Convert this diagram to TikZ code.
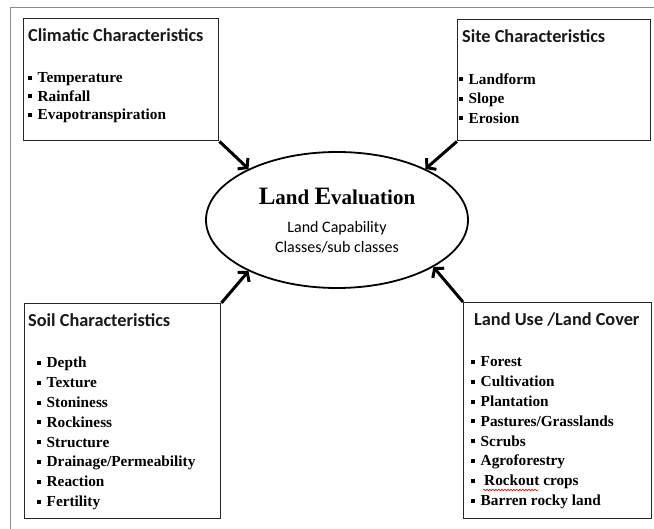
\documentclass[tikz,border=0pt]{standalone}
\usepackage{fontspec}
\setmainfont{Liberation Serif}
\newfontfamily\calfont{Carlito}
\usetikzlibrary{shapes.geometric,arrows.meta,decorations.pathmorphing}
\newcommand\bul{\rule[0.2em]{4pt}{4pt}\hspace{5.5pt}}
\begin{document}
\begin{tikzpicture}[x=1pt,y=-1pt,
  box/.style={draw=black!85,line width=1.4pt,anchor=north west,inner sep=0pt,rectangle},
  ttl/.style={anchor=base west,inner sep=0pt,font=\calfont\bfseries\fontsize{18.3}{20}\selectfont,text=black!90},
  itm/.style={anchor=base west,inner sep=0pt,font=\bfseries\fontsize{15.3}{17}\selectfont},
  arr/.style={line width=3pt,-{Straight Barb[length=6pt,width=15pt]}},
  frame/.style={draw=black!45,line width=1pt}]
\useasboundingbox (0,0) rectangle (654,529);
% outer frame
\coordinate (f1) at (10,529);
\coordinate (f2) at (10,8);
\coordinate (f3) at (654,8);
\draw[frame] (f1) -- (f2) -- (f3);
% boxes
\node[box,minimum width=195pt,minimum height=122pt] (clim) at (23,18) {};
\node[box,minimum width=193pt,minimum height=121pt] (site) at (457,19) {};
\node[box,minimum width=196pt,minimum height=215pt] (soil) at (24,303) {};
\node[box,minimum width=188pt,minimum height=216pt] (luse) at (463,302) {};
% ellipse
\node[ellipse,draw,line width=1.8pt,minimum width=262pt,minimum height=136pt,inner sep=0pt] (ev) at (337,220) {};
\node[anchor=base,inner sep=0pt,font=\bfseries\fontsize{21}{22}\selectfont] (evt) at (337,205) {{\fontsize{25}{25}\selectfont L}and {\fontsize{25}{25}\selectfont E}valuation};
\node[anchor=base,inner sep=0pt,font=\calfont\fontsize{16}{18}\selectfont] (evs1) at (337,233) {Land Capability};
\node[anchor=base,inner sep=0pt,font=\calfont\fontsize{16}{18}\selectfont] (evs2) at (337,253) {Classes/sub classes};
% titles
\node[ttl] (climt) at (28,42) {Climatic Characteristics};
\node[ttl] (sitet) at (462,43) {Site Characteristics};
\node[ttl] (soilt) at (28,327) {Soil Characteristics};
\node[ttl] (luset) at (474,326) {Land Use /Land Cover};
% items
\foreach \t [count=\i from 0] in {Temperature,Rainfall,Evapotranspiration}
  \node[itm,name=ci\i] at (28,83+18.5*\i) {\bul\t};
\foreach \t [count=\i from 0] in {Landform,Slope,Erosion}
  \node[itm,name=si\i] at (459,84.5+19.3*\i) {\bul\t};
\foreach \t [count=\i from 0] in {Depth,Texture,Stoniness,Rockiness,Structure,Drainage/Permeability,Reaction,Fertility}
  \node[itm,name=so\i] at (37,368+19.8*\i) {\bul\t};
\foreach \t [count=\i from 0] in {Forest,Cultivation,Plantation,Pastures/Grasslands,Scrubs,Agroforestry}
  \node[itm,name=lu\i] at (471,367+19.8*\i) {\bul\t};
\node[itm] (lu6) at (471,367+19.8*6) {\bul\hspace{3.5pt}Rockout crops};
\node[itm] (lu7) at (471,367+19.8*7) {\bul Barren rocky land};
\coordinate (sq1) at (483,490);
\coordinate (sq2) at (538,490);
\draw[red,line width=0.6pt,decorate,decoration={snake,amplitude=0.8pt,segment length=3pt}] (sq1) -- (sq2);
% arrows
\draw[arr] (clim.south east) -- (ev.150);
\draw[arr] (site.south west) -- (ev.30);
\draw[arr] (soil.north east) -- (ev.210);
\draw[arr] (luse.north west) -- (ev.334);
\end{tikzpicture}
\end{document}
